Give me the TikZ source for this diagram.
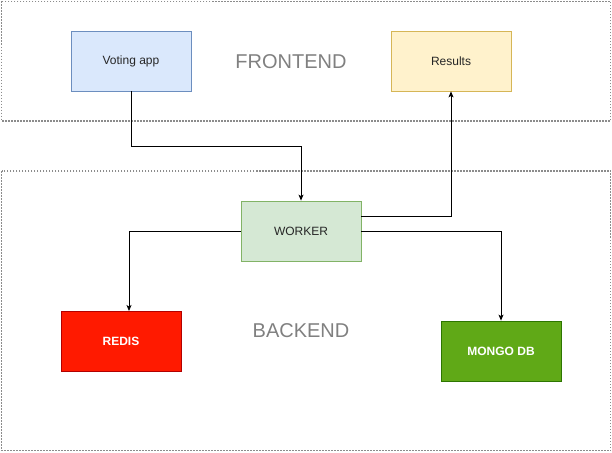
\documentclass[tikz,border=0pt]{standalone}
\usepackage{fontspec}
\setmainfont{Liberation Sans}
\usetikzlibrary{arrows.meta}
\definecolor{blueF}{HTML}{DAE8FC}\definecolor{blueS}{HTML}{6C8EBF}
\definecolor{yelF}{HTML}{FFF2CC}\definecolor{yelS}{HTML}{D6B656}
\definecolor{grnF}{HTML}{D5E8D4}\definecolor{grnS}{HTML}{82B366}
\definecolor{redF}{HTML}{FF1A00}\definecolor{redS}{HTML}{B20000}
\definecolor{mgF}{HTML}{60A917}\definecolor{mgS}{HTML}{2D7600}
\definecolor{zoneC}{HTML}{8C8C8C}\definecolor{labC}{HTML}{808080}
\tikzset{
  box/.style={draw, line width=0.8pt, minimum width=120pt, minimum height=60pt, inner sep=0pt, font=\fontsize{12}{14}\selectfont, text=black!85},
  zone/.style={draw=zoneC, line width=1.4pt, dash pattern=on 1.5pt off 1.5pt},
  zonelabel/.style={text=labC, font=\fontsize{20}{24}\selectfont},
  conn/.style={line width=0.8pt, -{Stealth[length=6pt,width=5pt,inset=1.5pt]}},
}
\begin{document}
\begin{tikzpicture}[x=1pt,y=-1pt]
\useasboundingbox (0,0) rectangle (612,452);
\draw[zone] (1.5,1.5) rectangle (610.5,121);
\draw[zone] (1.5,171) rectangle (610.5,450.5);
\node[zonelabel] (fe) at (291,62) {FRONTEND};
\node[zonelabel] (be) at (301,331) {BACKEND};
\node[box, fill=blueF, draw=blueS] (vote) at (131,61) {Voting app};
\node[box, fill=yelF, draw=yelS] (res) at (451,61) {Results};
\node[box, fill=grnF, draw=grnS] (work) at (301,231) {WORKER};
\node[box, fill=redF, draw=redS, text=white, font=\bfseries\fontsize{12}{14}\selectfont] (redis) at (121,341) {REDIS};
\node[box, fill=mgF, draw=mgS, text=white, font=\bfseries\fontsize{12}{14}\selectfont] (mongo) at (501,351) {MONGO DB};
\draw[conn] (vote.south) -- (131,146) -| (work.north);
\coordinate (wr) at (361,216);
\draw[conn] (wr) -| (res.south);
\draw[conn] (work.west) -| (129,311);
\draw[conn] (work.east) -| (mongo.north);
\end{tikzpicture}
\end{document}
